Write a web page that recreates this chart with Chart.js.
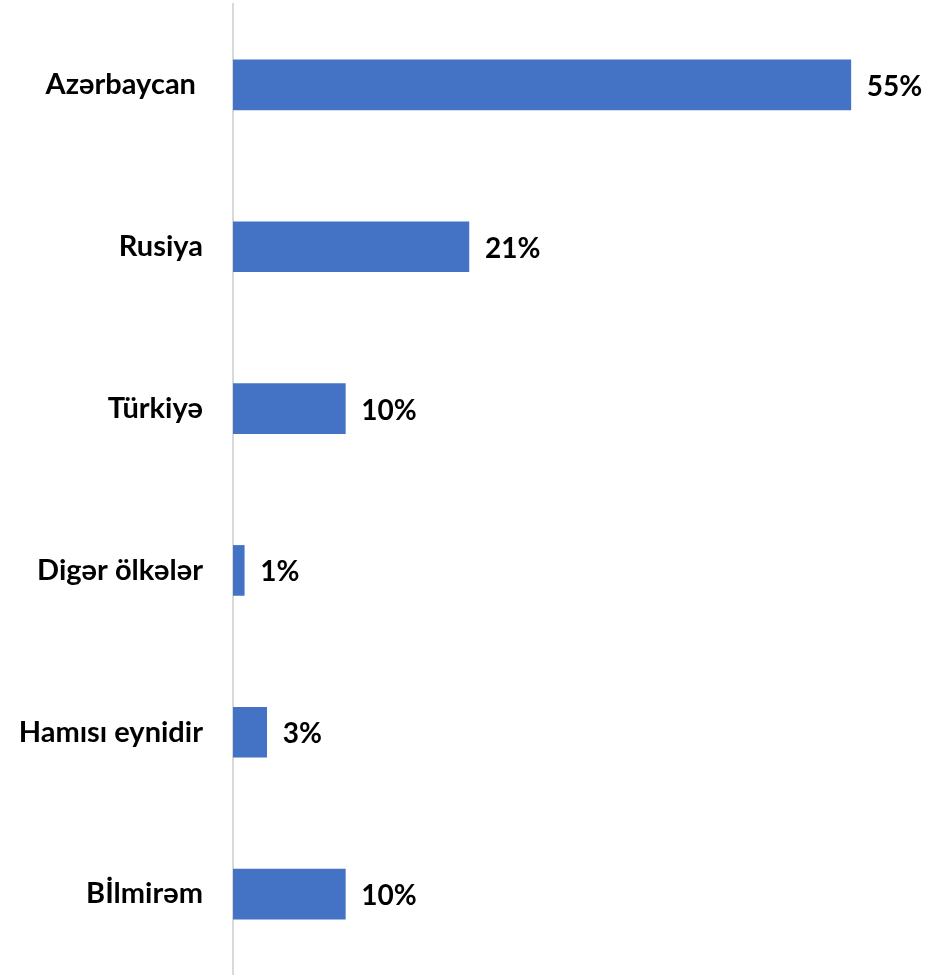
<!DOCTYPE html>
<html>
<head>
<meta charset="utf-8">
<script src="https://cdn.jsdelivr.net/npm/chart.js@4"></script>
<style>
  html, body { margin: 0; padding: 0; background: #fff; }
  #wrap { width: 928px; height: 975px; }
</style>
</head>
<body>
<div id="wrap"><canvas id="chart"></canvas></div>
<script>
const categories = ['Azərbaycan ', 'Rusiya', 'Türkiyə', 'Digər ölkələr', 'Hamısı eynidir', 'Bİlmirəm'];
const shares = [55, 21, 10, 1, 3, 10];

const FONT = 'Lato, "Open Sans", sans-serif';

// writes "NN%" just past the end of each bar
const valueLabels = {
  id: 'valueLabels',
  afterDatasetsDraw(chart) {
    const ctx = chart.ctx;
    const meta = chart.getDatasetMeta(0);
    ctx.save();
    ctx.font = 'bold 28px ' + FONT;
    ctx.fillStyle = '#000';
    ctx.textAlign = 'left';
    ctx.textBaseline = 'middle';
    meta.data.forEach((bar, i) => {
      ctx.fillText(shares[i] + '%', bar.x + 16, bar.y + 2);
    });
    ctx.restore();
  }
};

window.addEventListener('DOMContentLoaded', () => {
  const ctx = document.getElementById('chart').getContext('2d');
  new Chart(ctx, {
    type: 'bar',
    data: {
      labels: categories,
      datasets: [{
        data: shares,
        backgroundColor: '#4472C4',
        barThickness: 50
      }]
    },
    options: {
      indexAxis: 'y',
      responsive: true,
      maintainAspectRatio: false,
      animation: false,
      layout: { padding: { top: 4, right: 21, bottom: -2, left: 0 } },
      plugins: {
        legend: { display: false },
        tooltip: { enabled: false }
      },
      scales: {
        x: {
          display: false,
          min: 0,
          max: 60
        },
        y: {
          afterFit(scale) {
            scale.width = 233;
            scale.paddingTop = 0;
            scale.paddingBottom = 0;
          },
          grid: { display: false, drawTicks: false },
          border: { display: true, color: '#d9d9d9', width: 2 },
          ticks: {
            color: '#000',
            padding: 30,
            font: { family: FONT, size: 29, weight: 'bold' }
          }
        }
      }
    },
    plugins: [valueLabels]
  });
});
</script>
</body>
</html>
